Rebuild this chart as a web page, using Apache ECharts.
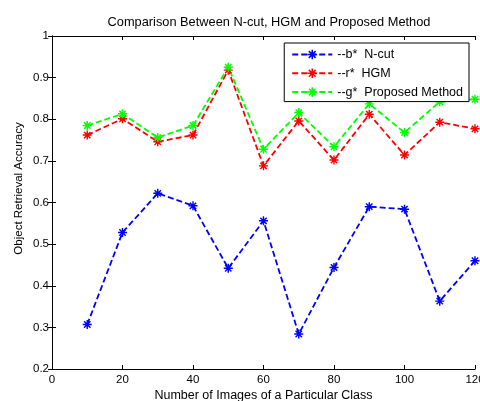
<!DOCTYPE html>
<html>
<head>
<meta charset="utf-8">
<script src="https://cdn.jsdelivr.net/npm/echarts@6/dist/echarts.min.js"></script>
<style>
  html, body { margin: 0; padding: 0; background: #fff; }
  #chart { width: 480px; height: 401px; }
</style>
</head>
<body>
<div id="chart"></div>
<script>
// x positions (number of images)
var imageCounts = [10, 20, 30, 40, 50, 60, 70, 80, 90, 100, 110, 120];
// accuracy for each method
var ncutVals = [0.307, 0.528, 0.622, 0.592, 0.442, 0.556, 0.284, 0.444, 0.590, 0.584, 0.363, 0.460];
var hgmVals = [0.762, 0.801, 0.746, 0.762, 0.918, 0.688, 0.796, 0.702, 0.812, 0.714, 0.793, 0.777];
var proposedVals = [0.785, 0.813, 0.756, 0.785, 0.925, 0.728, 0.816, 0.734, 0.837, 0.768, 0.842, 0.848];
var seriesNames = ['--b*  N-cut', '--r*  HGM', '--g*  Proposed Method'];

// asterisk marker like matlab '*'
var starPath = 'path://M0 8.4L20 8.4L20 11.6L0 11.6Z' +
    'M8.4 0L11.6 0L11.6 20L8.4 20Z' +
    'M4.06 1.80L18.2 15.94L15.94 18.2L1.80 4.06Z' +
    'M1.80 15.94L15.94 1.80L18.2 4.06L4.06 18.2Z';

function pairs(vals) {
    return imageCounts.map(function (x, i) { return [x, vals[i]]; });
}

function makeSeries(name, vals, color) {
    return {
        name: name,
        type: 'line',
        data: pairs(vals),
        symbol: starPath,
        symbolSize: 9,
        showAllSymbol: true,
        itemStyle: { color: color },
        lineStyle: { color: color, width: 1.8, type: [6, 3] },
        emphasis: { disabled: true },
        animation: false
    };
}

var font = 'Liberation Sans, Arial, sans-serif';
var chart = echarts.init(document.getElementById('chart'));

var option = {
    backgroundColor: '#fff',
    textStyle: { fontFamily: font },
    title: {
        text: 'Comparison Between N-cut, HGM and Proposed Method',
        left: 264,
        textAlign: 'center',
        top: 11,
        textStyle: { fontSize: 12.8, fontWeight: 'normal', color: '#000', fontFamily: font }
    },
    legend: {
        orient: 'vertical',
        right: 11,
        top: 43,
        padding: [5, 6, 3, 7],
        itemGap: 5.8,
        itemWidth: 40,
        itemHeight: 12,
        backgroundColor: '#fff',
        borderColor: '#000',
        borderWidth: 1,
        borderRadius: 0,
        data: seriesNames,
        textStyle: { fontSize: 12.5, color: '#000', fontFamily: font }
    },
    grid: { left: 52, right: 5, top: 36, bottom: 32, outerBoundsMode: 'none', containLabel: false },
    xAxis: [{
        type: 'value',
        min: 0, max: 120, interval: 20,
        name: 'Number of Images of a Particular Class',
        nameLocation: 'middle',
        nameGap: 20,
        nameMoveOverlap: false,
        nameTextStyle: { fontSize: 12.5, color: '#000' },
        axisLine: { lineStyle: { color: '#000', width: 1 } },
        axisTick: { inside: true, length: 4, lineStyle: { color: '#000' } },
        axisLabel: { fontSize: 11.5, color: '#000', margin: 5 },
        splitLine: { show: false }
    }, {
        type: 'value',
        position: 'top',
        min: 0, max: 120, interval: 20,
        axisLine: { lineStyle: { color: '#000', width: 1 } },
        axisTick: { inside: true, length: 4, lineStyle: { color: '#000' } },
        axisLabel: { show: false },
        splitLine: { show: false }
    }],
    yAxis: [{
        type: 'value',
        min: 0.2, max: 1, interval: 0.1,
        name: 'Object Retrieval Accuracy',
        nameLocation: 'middle',
        nameGap: 27,
        nameMoveOverlap: false,
        nameTextStyle: { fontSize: 11.5, color: '#000', padding: [0, 0, 0, 28] },
        axisLine: { show: true, lineStyle: { color: '#000', width: 1 } },
        axisTick: { show: true, inside: true, length: 4, lineStyle: { color: '#000' } },
        axisLabel: { fontSize: 11.5, color: '#000', margin: 3 },
        splitLine: { show: false }
    }, {
        type: 'value',
        position: 'right',
        min: 0.2, max: 1, interval: 0.1,
        axisLine: { show: true, lineStyle: { color: '#000', width: 1 } },
        axisTick: { show: true, inside: true, length: 4, lineStyle: { color: '#000' } },
        axisLabel: { show: false },
        splitLine: { show: false }
    }],
    series: [
        makeSeries(seriesNames[0], ncutVals, '#0000ff'),
        makeSeries(seriesNames[1], hgmVals, '#ff0000'),
        makeSeries(seriesNames[2], proposedVals, '#00ff00')
    ]
};

chart.setOption(option);
</script>
</body>
</html>
